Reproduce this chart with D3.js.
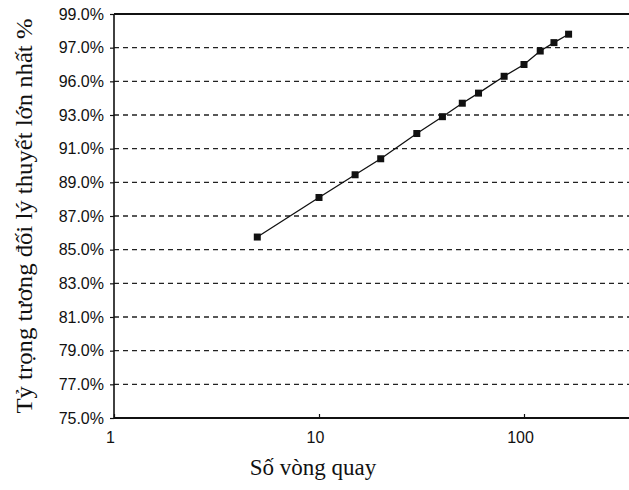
<!DOCTYPE html>
<html>
<head>
<meta charset="utf-8">
<script src="https://cdn.jsdelivr.net/npm/d3@7"></script>
<style>
  body { margin: 0; background: #fff; }
  svg { display: block; }
</style>
</head>
<body>
<div id="chart"></div>
<script>
// values
var rounds = [5, 10, 15, 20, 30, 40, 50, 60, 80, 100, 120, 140, 165];
var ratio = [85.75, 88.1, 89.45, 90.4, 91.9, 92.9, 93.7, 94.3, 95.3, 96.0, 96.8, 97.3, 97.8];
var yTicks = [75, 77, 79, 81, 83, 85, 87, 89, 91, 93, 95, 97, 99];
var yTickLabels = ["75.0%", "77.0%", "79.0%", "81.0%", "83.0%", "85.0%", "87.0%",
  "89.0%", "91.0%", "93.0%", "96.0%", "97.0%", "99.0%"];
var xTicks = [1, 10, 100];
var xTickLabels = ["1", "10", "100"];

var width = 629, height = 490,
    plotLeft = 114, plotTop = 14, plotBottom = 418;

var svg = d3.select("#chart").append("svg")
    .attr("width", width)
    .attr("height", height);

var x = d3.scaleLog().domain([1, 1000]).range([plotLeft, plotLeft + 3 * 205]);
var y = d3.scaleLinear().domain([75, 99]).range([plotBottom, plotTop]);

// dashed grid
svg.append("g")
  .selectAll("line")
  .data(yTicks.filter(function(d) { return d > 75 && d < 99; }))
  .enter().append("line")
    .attr("x1", plotLeft)
    .attr("x2", width)
    .attr("y1", function(d) { return y(d); })
    .attr("y2", function(d) { return y(d); })
    .attr("stroke", "#222")
    .attr("stroke-width", 1.4)
    .attr("stroke-dasharray", "5,4");

// frame top
svg.append("line")
  .attr("x1", plotLeft).attr("x2", width)
  .attr("y1", y(99)).attr("y2", y(99))
  .attr("stroke", "#111").attr("stroke-width", 2);

// y axis
var yAxis = d3.axisLeft(y)
  .tickValues(yTicks)
  .tickFormat(function(d, i) { return yTickLabels[i]; })
  .tickSize(4)
  .tickPadding(6);

var gy = svg.append("g")
  .attr("transform", "translate(" + plotLeft + ",0)")
  .call(yAxis);
gy.select(".domain").attr("stroke", "#111").attr("stroke-width", 1.6).attr("d", "M0," + plotTop + "V" + plotBottom);
gy.selectAll(".tick line").attr("stroke", "#111").attr("stroke-width", 1.2);
gy.selectAll("text")
  .attr("font-family", "Liberation Sans, Arial, sans-serif")
  .attr("font-size", 16)
  .attr("fill", "#111");

// x axis, ticks pointing inward
var xAxis = d3.axisBottom(x)
  .tickValues(xTicks)
  .tickFormat(function(d, i) { return xTickLabels[i]; })
  .tickSizeInner(-4)
  .tickSizeOuter(0)
  .tickPadding(14);

var gx = svg.append("g")
  .attr("transform", "translate(0," + plotBottom + ")")
  .call(xAxis);
gx.select(".domain").attr("stroke", "#111").attr("stroke-width", 1.8).attr("d", "M" + plotLeft + ",0H" + width);
gx.selectAll(".tick line").attr("stroke", "#111").attr("stroke-width", 1.2);
gx.selectAll("text")
  .attr("dx", -4)
  .attr("font-family", "Liberation Sans, Arial, sans-serif")
  .attr("font-size", 16)
  .attr("fill", "#111");

// series line
var line = d3.line()
  .x(function(d, i) { return x(rounds[i]); })
  .y(function(d) { return y(d); });

svg.append("path")
  .datum(ratio)
  .attr("d", line)
  .attr("fill", "none")
  .attr("stroke", "#111")
  .attr("stroke-width", 1.3);

svg.append("g")
  .selectAll("rect")
  .data(ratio)
  .enter().append("rect")
    .attr("x", function(d, i) { return x(rounds[i]) - 3.5; })
    .attr("y", function(d) { return y(d) - 3.5; })
    .attr("width", 7)
    .attr("height", 7)
    .attr("fill", "#111");

// titles
svg.append("text")
  .attr("x", 313)
  .attr("y", 475)
  .attr("text-anchor", "middle")
  .attr("font-family", "Liberation Serif, Times New Roman, serif")
  .attr("font-size", 23)
  .attr("fill", "#111")
  .text("Số vòng quay");

svg.append("text")
  .attr("transform", "translate(32," + (plotTop + plotBottom) / 2 + ") rotate(-90)")
  .attr("text-anchor", "middle")
  .attr("font-family", "Liberation Serif, Times New Roman, serif")
  .attr("font-size", 24)
  .attr("textLength", 395)
  .attr("lengthAdjust", "spacingAndGlyphs")
  .attr("fill", "#111")
  .text("Tỷ trọng tương đối lý thuyết lớn nhất %");
</script>
</body>
</html>
